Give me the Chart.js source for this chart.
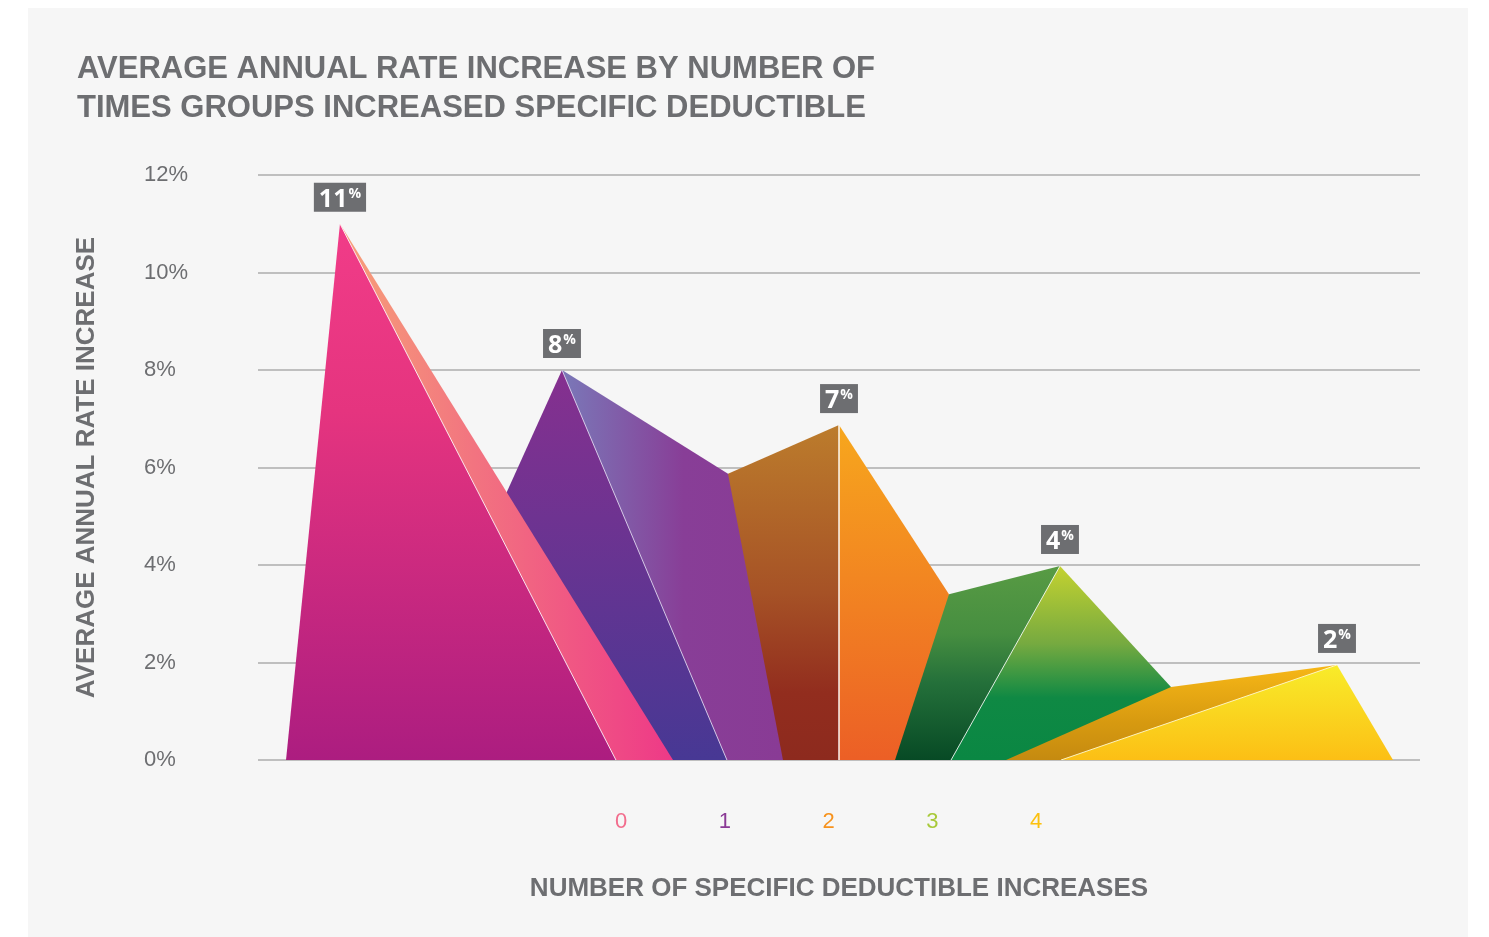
<!DOCTYPE html>
<html><head><meta charset="utf-8">
<script src="https://cdn.jsdelivr.net/npm/chart.js@4.4.1/dist/chart.umd.min.js"></script>
<style>
html,body{margin:0;padding:0;background:#ffffff;}
#panel{position:absolute;left:28px;top:8px;width:1440px;height:929px;background:#f6f6f6;}
#c{position:absolute;left:0;top:0;}
</style></head><body>
<div id="panel"></div>
<canvas id="c" width="1489" height="937"></canvas>
<script>
// ---------- DATA ----------
const categories = ['0', '1', '2', '3', '4'];
const rateLabels = [11, 8, 7, 4, 2];           // average annual rate increase (%) per category
const yTicks = [0, 2, 4, 6, 8, 10, 12];

// facet outlines (x in category units, y in %)
const pinkMain    = [{x:-3.23,y:0},{x:-2.71,y:11},{x:-0.05,y:0}];
const pinkStrip   = [{x:-2.71,y:11},{x:0.50,y:0}];
const darkPurple  = [{x:-2.27,y:0},{x:-0.57,y:8},{x:1.02,y:0}];
const lightPurple = [{x:-0.57,y:8},{x:1.03,y:5.87},{x:1.56,y:0}];
const brownFacet  = [{x:1.03,y:5.87},{x:2.10,y:6.87}];
const orangeFacet = [{x:2.10,y:6.87},{x:3.16,y:3.40}];
const darkGreen   = [{x:2.64,y:0},{x:3.16,y:3.40},{x:4.23,y:3.98}];
const lightGreen  = [{x:3.18,y:0},{x:4.23,y:3.98},{x:5.30,y:1.50}];
const ochreFacet  = [{x:3.71,y:0},{x:5.30,y:1.50},{x:6.90,y:1.95}];
const yellowFacet = [{x:4.24,y:0},{x:6.90,y:1.95},{x:7.44,y:0}];

// ---------- STYLE ----------
const GREY = '#6d6e71';
const categoryColors = ['#f26d8d', '#8b3b96', '#f7931e', '#a8c93a', '#fcc10f'];

function hasFont(name) {
  const c = document.createElement('canvas').getContext('2d');
  c.font = 'bold 100px monospace'; const a = c.measureText('AVERAGE ANNUAL').width;
  c.font = 'bold 100px "' + name + '", monospace'; const b = c.measureText('AVERAGE ANNUAL').width;
  return Math.abs(a - b) > 1;
}
const narrowOK = hasFont('Liberation Sans Narrow');
const COND = narrowOK ? '"Liberation Sans Narrow", "Liberation Sans", Arial, sans-serif' : '"Liberation Sans", Arial, sans-serif';
const titleSize = narrowOK ? 37 : 31;
const axisTitleSize = narrowOK ? 31 : 26;
const REG = '"Liberation Sans", Arial, sans-serif';

function facetFill(points, dir, stops) {
  return (c) => {
    const chart = c.chart; const xs = chart.scales.x, ys = chart.scales.y;
    if (!chart.chartArea || !xs || !ys) return stops[0][1];
    const xv = points.map(p => p.x), yv = points.map(p => p.y);
    let g;
    if (dir === 'h') {
      g = chart.ctx.createLinearGradient(xs.getPixelForValue(Math.min(...xv)), 0, xs.getPixelForValue(Math.max(...xv)), 0);
    } else {
      g = chart.ctx.createLinearGradient(0, ys.getPixelForValue(Math.max(...yv)), 0, ys.getPixelForValue(0));
    }
    stops.forEach(s => g.addColorStop(s[0], s[1]));
    return g;
  };
}

const facets = [
  {data: yellowFacet, dir: 'v', order: 1, stops: [[0,'#f8ec2a'],[1,'#fcbf15']]},
  {data: ochreFacet,  dir: 'v', order: 2, stops: [[0,'#f7b717'],[0.6,'#d79a10'],[1,'#c58a10']]},
  {data: lightGreen,  dir: 'v', order: 3, stops: [[0,'#c4d230'],[0.4,'#76aa40'],[0.68,'#0f8944'],[1,'#0a8743']]},
  {data: darkGreen,   dir: 'v', order: 4, stops: [[0,'#589b44'],[0.35,'#468e40'],[0.6,'#24703a'],[1,'#074a25']]},
  {data: orangeFacet, dir: 'v', order: 5, stops: [[0,'#f7a71d'],[1,'#ec5f26']]},
  {data: pinkMain,    dir: 'v', order: 6, stops: [[0,'#f13c88'],[0.35,'#e5347f'],[1,'#ac1d80']]},
  {data: pinkStrip,   dir: 'h', order: 7, stops: [[0,'#f7a078'],[0.4,'#f27480'],[1,'#ee3987']]},
  {data: darkPurple,  dir: 'v', order: 8, stops: [[0,'#86308f'],[1,'#473894']]},
  {data: lightPurple, dir: 'h', order: 9, stops: [[0,'#7a78b8'],[0.55,'#883e97'],[1,'#893b95']]},
  {data: brownFacet,  dir: 'v', order: 10, stops: [[0,'#bc7c2c'],[0.5,'#a65226'],[0.8,'#922d1e'],[1,'#8d2a1e']]}
];

const separators = [
  {data: [pinkMain[1], pinkMain[2]], w: 1, c: 'rgba(255,255,255,0.85)'},
  {data: [darkPurple[1], darkPurple[2]], w: 1, c: 'rgba(230,225,245,0.85)'},
  {data: [brownFacet[1], {x: brownFacet[1].x, y: 0}], w: 2, c: 'rgba(255,255,255,0.7)'},
  {data: [lightGreen[0], lightGreen[1]], w: 1, c: 'rgba(255,255,255,0.85)'},
  {data: [yellowFacet[0], yellowFacet[1]], w: 1, c: 'rgba(255,250,210,0.9)'}
];

const datasets = [];
separators.forEach(s => datasets.push({data: s.data, fill: false, borderColor: s.c, borderWidth: s.w, pointRadius: 0, order: 0}));
facets.forEach(f => datasets.push({data: f.data, fill: 'origin', backgroundColor: facetFill(f.data, f.dir, f.stops),
  borderWidth: 0, borderColor: 'rgba(0,0,0,0)', pointRadius: 0, order: f.order}));

// peaks: [dataset index, point index]
const idx = d => datasets.findIndex(ds => ds.data === d);
const peakRefs = [[idx(pinkMain),1],[idx(darkPurple),1],[idx(brownFacet),1],[idx(lightGreen),1],[idx(yellowFacet),1]];

const peakLabelPlugin = {
  id: 'peakLabels',
  afterDatasetsDraw(chart) {
    const ctx = chart.ctx;
    const big = 'bold 25px "Open Sans", "Liberation Sans", sans-serif';
    const small = 'bold 14px "Open Sans", "Liberation Sans", sans-serif';
    peakRefs.forEach((ref, i) => {
      const el = chart.getDatasetMeta(ref[0]).data[ref[1]];
      const num = String(rateLabels[i]);
      ctx.save();
      ctx.font = big; const nw = ctx.measureText(num).width;
      ctx.font = small; const pw = ctx.measureText('%').width;
      const w = nw + pw + 11, h = 29;
      const bx = el.x - w / 2, by = el.y - 12 - h;
      ctx.fillStyle = GREY; ctx.fillRect(bx, by, w, h);
      ctx.fillStyle = '#ffffff'; ctx.textAlign = 'left'; ctx.textBaseline = 'alphabetic';
      ctx.font = big; ctx.fillText(num, bx + 5, by + h - 5);
      ctx.font = small; ctx.fillText('%', bx + 5 + nw + 1, by + 15);
      ctx.restore();
    });
  }
};

new Chart(document.getElementById('c'), {
  type: 'line',
  data: {datasets},
  plugins: [peakLabelPlugin],
  options: {
    responsive: false, animation: false, events: [],
    layout: {padding: {left: 77, right: 69, top: 0, bottom: 0}},
    plugins: {
      legend: {display: false}, tooltip: {enabled: false},
      title: {display: true, position: 'top', align: 'start', color: GREY,
        text: ['AVERAGE ANNUAL RATE INCREASE BY NUMBER OF', 'TIMES GROUPS INCREASED SPECIFIC DEDUCTIBLE'],
        font: {family: COND, size: titleSize, weight: 'bold', lineHeight: '39px'},
        padding: {top: 50, bottom: 47}},
      subtitle: {display: true, position: 'left', align: 'center', fullSize: false, color: GREY,
        text: 'AVERAGE ANNUAL RATE INCREASE',
        font: {family: COND, size: axisTitleSize, weight: 'bold', lineHeight: '20px'},
        padding: {top: 0, bottom: 47}}
    },
    scales: {
      x: {type: 'linear', min: -3.5, max: 7.7,
        afterFit: s => { s.height = 177; },
        grid: {display: false}, border: {display: false},
        ticks: {stepSize: 1, autoSkip: false, maxRotation: 0, padding: 41,
          font: {family: REG, size: 22, lineHeight: 1.2},
          color: c => categoryColors[c.tick && Number.isInteger(c.tick.value) ? c.tick.value : 0] || GREY,
          callback: v => (Number.isInteger(v) && v >= 0 && v < categories.length) ? categories[v] : ''},
        title: {display: true, text: 'NUMBER OF SPECIFIC DEDUCTIBLE INCREASES', color: GREY,
          font: {family: COND, size: axisTitleSize, weight: 'bold', lineHeight: 1.2},
          padding: {top: 0, bottom: 33}}
      },
      y: {min: 0, max: 12,
        afterFit: s => { s.width = 114; },
        afterBuildTicks: s => { s.ticks = yTicks.map(v => ({value: v})); },
        grid: {color: '#bfbfbf', lineWidth: 2, drawTicks: false}, border: {display: false},
        ticks: {crossAlign: 'far', padding: 0, color: GREY,
          font: {family: REG, size: 22},
          callback: v => v + '%'}
      }
    }
  }
});
</script>
</body></html>
